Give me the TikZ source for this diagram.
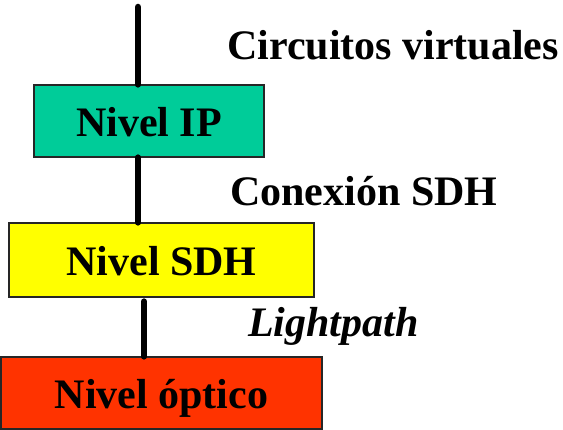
\documentclass[tikz,border=0pt]{standalone}
\usepackage{fontspec}
\setmainfont{Liberation Serif}
\usetikzlibrary{positioning}
\definecolor{ipgreen}{HTML}{00CC99}
\definecolor{sdhyellow}{HTML}{FFFF00}
\definecolor{optred}{HTML}{FF3300}
\tikzset{
 level/.style={draw=black!85, line width=1.2pt, inner sep=0pt, text height=31pt, text depth=0pt,
  font=\fontsize{42}{48}\selectfont\bfseries},
 tag/.style={anchor=base west, inner sep=0pt, font=\fontsize{42}{48}\selectfont\bfseries},
 link/.style={line width=6.5pt, line cap=round},
}
\begin{document}
\begin{tikzpicture}[x=1pt, y=-1pt]
 \useasboundingbox (0,0) rectangle (563,430);
 \node [level, fill=ipgreen, minimum width=230pt, minimum height=72pt] (ip) at (149,121) {Nivel IP};
 \node [level, fill=sdhyellow, minimum width=305pt, minimum height=74pt] (sdh) at (161.5,260) {Nivel SDH};
 \node [level, fill=optred, minimum width=321pt, minimum height=72pt] (opt) at (161.5,393) {Nivel óptico};
 \coordinate (top) at (138,7);
 \coordinate (fibre) at (144,0);
 \node [tag] (vc) at (227,60) {Circuitos virtuales};
 \node [tag] (conn) at (230,206) {Conexión SDH};
 \node [tag, font=\fontsize{42}{48}\selectfont\bfseries\itshape] (lp) at (248,337) {Lightpath};
 \draw [link] (top) -- (top |- ip.north);
 \draw [link] (ip.south -| top) -- (sdh.north -| top);
 \draw [link] ([yshift=-4pt]sdh.south -| fibre) -- (opt.north -| fibre);
\end{tikzpicture}
\end{document}
